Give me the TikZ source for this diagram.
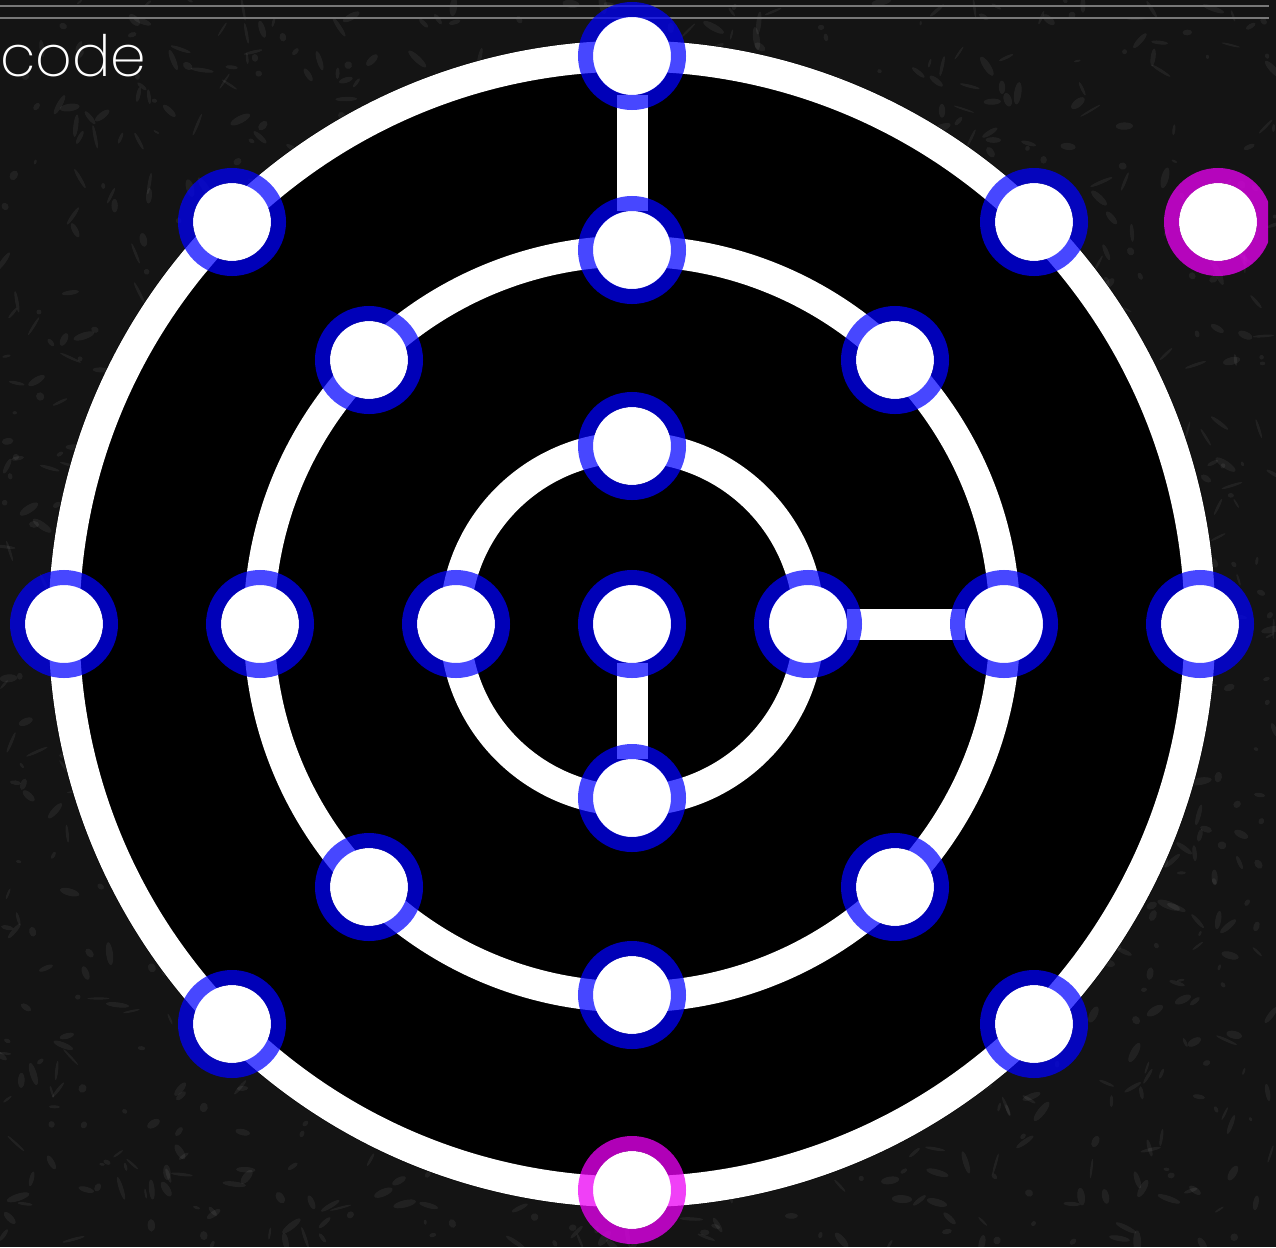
\documentclass[tikz,border=0pt]{standalone}
\usepackage{fontspec}
\IfFontExistsTF{Poppins ExtraLight}{\newfontfamily\codefont{Poppins ExtraLight}}{%
  \IfFontExistsTF{Poppins Light}{\newfontfamily\codefont{Poppins Light}}{\newfontfamily\codefont{Poppins}}}
\definecolor{nodeblue}{RGB}{0,0,255}
\definecolor{nodemag}{RGB}{235,0,245}
\definecolor{bgdark}{RGB}{20,20,20}
\definecolor{rule}{RGB}{120,120,120}
\tikzset{
  dot/.style={circle, fill=white, minimum size=78pt, inner sep=0pt, outer sep=0pt},
  ringb/.style={draw=nodeblue, draw opacity=0.72, line width=15pt},
  ringm/.style={draw=nodemag, draw opacity=0.75, line width=15pt},
  track/.style={draw=white, line width=31pt},
  conn/.style={draw=white, line width=31pt},
}
\begin{document}
\begin{tikzpicture}[x=1pt,y=-1pt]
\useasboundingbox (0,0) rectangle (1276,1247);
% background
\fill[bgdark] (0,0) rectangle (1276,1247);
\pgfmathsetseed{4242}
\foreach \i in {1,...,1600}{
  \pgfmathsetmacro\xa{rnd*1276}
  \pgfmathsetmacro\ya{rnd*1247}
  \pgfmathsetmacro\ra{2+rnd*10}
  \pgfmathsetmacro\rb{1+rnd*3}
  \pgfmathsetmacro\an{rnd*180}
  \fill[white, opacity=0.06, rotate around={\an:(\xa,\ya)}] (\xa,\ya) ellipse[x radius=\ra pt, y radius=\rb pt];
}
% top rules
\draw[rule, line width=1.2pt] (0,6) -- (1269,6);
\draw[rule, line width=1.2pt] (0,18) -- (1269,18);
% title fragment
\node[anchor=base west, inner sep=0pt, text=white, font=\codefont\fontsize{57}{66}\selectfont] (title) at (0,77) {code};
\begin{scope}
\clip (0,0) rectangle (1268,1247);
% board
\fill[black] (632,624) circle[radius=584pt];
\node[dot] (c) at (632,624) {};
\draw[track] (c.center) circle[radius=568pt];
\draw[track] (c.center) circle[radius=373pt];
\draw[track] (c.center) circle[radius=177pt];
% nodes: outer ring
\node[dot] (o1) at (632,56) {};
\node[dot] (o2) at (1034,222) {};
\node[dot] (o3) at (1200,624) {};
\node[dot] (o4) at (1034,1024) {};
\node[dot] (o5) at (632,1190) {};
\node[dot] (o6) at (232,1024) {};
\node[dot] (o7) at (64,624) {};
\node[dot] (o8) at (232,222) {};
% middle ring
\node[dot] (m1) at (632,250) {};
\node[dot] (m2) at (895,360) {};
\node[dot] (m3) at (1004,624) {};
\node[dot] (m4) at (895,887) {};
\node[dot] (m5) at (632,995) {};
\node[dot] (m6) at (369,887) {};
\node[dot] (m7) at (260,624) {};
\node[dot] (m8) at (369,360) {};
% inner ring
\node[dot] (i1) at (632,446) {};
\node[dot] (i2) at (808,624) {};
\node[dot] (i3) at (632,798) {};
\node[dot] (i4) at (456,624) {};
% spare piece
\node[dot] (x1) at (1218,222) {};
% connectors
\draw[conn] (o1) -- (m1);
\draw[conn] (i2) -- (m3);
\draw[conn] (c) -- (i3);
% redraw fills above connectors
\foreach \n in {o1,m1,i2,m3,c,i3}{\fill[white] (\n.center) circle[radius=39pt];}
% rings
\foreach \n in {o1,o2,o3,o4,o6,o7,o8,m1,m2,m3,m4,m5,m6,m7,m8,i1,i2,i3,i4,c}{
  \draw[ringb] (\n.center) circle[radius=46.5pt];
}
\foreach \n in {o5,x1}{
  \draw[ringm] (\n.center) circle[radius=46.5pt];
}
\end{scope}
\end{tikzpicture}
\end{document}
